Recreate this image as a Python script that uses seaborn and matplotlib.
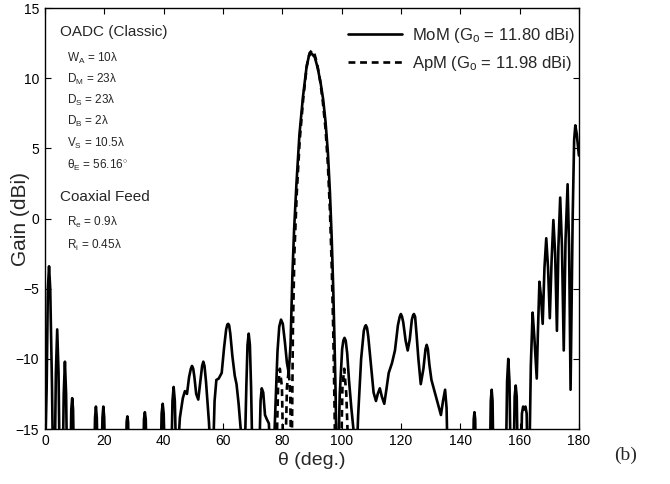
import matplotlib
matplotlib.use("Agg")
import matplotlib.pyplot as plt
import seaborn as sns

# MoM gain pattern (solid); values below -15 are clipped by the axis
mom_theta = [
    0.0, 0.6, 1.0, 1.4, 1.8, 2.4, 3.0,
    3.3, 3.7, 4.15, 4.6, 5.0,
    6.0, 6.35, 6.75, 7.15, 7.5,
    8.6, 8.9, 9.2, 9.5, 9.8,
    16.6, 16.9, 17.2, 17.5, 17.8,
    19.1, 19.4, 19.7, 20.0, 20.3,
    27.3, 27.55, 27.8, 28.05, 28.3,
    33.1, 33.4, 33.7, 34.0, 34.3,
    39.0, 39.35, 39.7, 40.05, 40.4,
    42.6, 43.0, 43.4, 43.8, 44.3,
    44.6, 45.5, 46.5, 47.2, 47.9, 48.6, 49.2, 49.6, 50.0, 50.4, 51.0, 51.7, 52.4, 53.0,
    53.4, 53.8, 54.3, 55.3, 56.0,
    56.6, 57.2, 57.8, 58.6, 59.6, 60.4, 61.1, 61.5, 61.8, 62.1, 62.5, 63.2, 64.0, 64.6,
    65.3, 66.0, 66.5,
    67.3, 67.9, 68.3, 68.7, 69.1, 69.5, 70.0,
    72.2, 72.7, 73.1, 73.6, 74.2, 74.8, 75.5, 76.1,
    77.0, 77.7, 78.4, 79.0, 79.6, 80.2, 80.9, 81.6, 82.2,
    82.8, 83.4, 84.0, 84.8, 85.8, 87.0, 88.2, 89.0, 89.8, 91.0, 92.0, 93.0, 93.8, 94.6,
    95.4, 96.1, 96.7, 97.2, 97.6, 98.0, 98.3,
    98.8, 99.4, 100.2, 100.6, 101.0, 101.4, 101.9, 102.5, 103.3, 104.0, 104.5,
    105.0, 105.6, 106.6, 107.5, 107.9, 108.2, 108.6, 109.0, 109.8, 110.8, 111.6, 112.2,
    112.9, 113.6, 114.4, 115.1, 115.9, 117.0, 118.0, 119.0, 119.6, 120.0, 120.4, 120.8,
    121.6, 122.3, 123.0, 123.7, 124.1, 124.4, 124.8, 125.3, 125.9, 126.7, 127.6, 128.3,
    128.7, 129.1, 129.6, 130.3, 131.2, 132.1, 133.5, 134.2, 134.9, 135.4, 135.8,
    144.3, 144.55, 144.8, 145.05, 145.3,
    150.0, 150.3, 150.6, 150.9, 151.2,
    155.4, 155.8, 156.2, 156.6, 157.0,
    158.0, 158.35, 158.7, 159.05, 159.4,
    160.5, 160.8, 161.2, 161.6, 162.0, 162.4, 162.7,
    163.3, 163.8, 164.4, 165.0, 165.8, 166.2, 166.7, 167.2, 167.8, 168.4, 169.0, 169.6,
    170.2, 170.8, 171.4, 172.0, 172.6, 173.1, 173.7, 174.3, 174.9, 175.5, 176.2, 176.7,
    177.2, 177.9, 178.4, 178.8, 179.3, 180.0,
]
mom_gain = [
    -18.0, -12.0, -5.0, -3.4, -5.0, -12.0, -22.0,
    -18.0, -11.0, -7.9, -11.0, -18.0,
    -18.0, -12.5, -10.2, -12.5, -18.0,
    -17.5, -13.6, -12.8, -13.6, -17.5,
    -17.5, -14.2, -13.4, -14.2, -17.5,
    -17.5, -14.2, -13.4, -14.2, -17.5,
    -17.5, -14.5, -14.1, -14.5, -17.5,
    -17.5, -14.3, -13.8, -14.3, -17.5,
    -17.5, -13.9, -13.2, -13.9, -17.5,
    -17.5, -13.0, -12.0, -13.0, -17.5,
    -17.5, -14.2, -12.8, -12.3, -12.5, -11.3, -10.7, -10.5, -10.7, -11.3, -12.5, -12.9, -11.6, -10.5,
    -10.2, -10.5, -11.6, -14.5, -17.5,
    -17.5, -13.0, -11.5, -11.4, -11.0, -9.2, -7.9, -7.55, -7.5, -7.6, -8.2, -9.8, -11.2, -11.8,
    -13.2, -15.0, -17.5,
    -17.5, -12.0, -9.0, -8.2, -9.0, -12.0, -17.5,
    -17.5, -13.0, -12.1, -12.4, -14.0, -14.3, -14.6, -17.5,
    -17.5, -13.5, -9.5, -7.7, -7.2, -7.5, -8.8, -10.3, -11.0,
    -9.0, -4.2, -0.8, 2.5, 6.0, 8.7, 10.8, 11.6, 11.8, 11.5, 10.7, 9.6, 8.5, 6.9,
    4.7, 1.8, -1.5, -5.0, -8.5, -12.5, -17.5,
    -17.5, -12.5, -9.3, -8.7, -8.5, -8.7, -9.6, -11.5, -13.5, -15.0, -17.5,
    -17.5, -14.0, -10.0, -8.0, -7.7, -7.6, -7.8, -8.4, -10.2, -12.4, -13.0, -12.5,
    -12.1, -12.7, -13.2, -12.2, -11.0, -10.3, -9.4, -7.6, -7.0, -6.8, -7.0, -7.4,
    -8.7, -9.4, -8.6, -7.2, -6.9, -6.8, -7.0, -8.3, -10.0, -11.8, -10.7, -9.3,
    -9.0, -9.3, -10.4, -11.5, -12.2, -12.9, -14.0, -13.0, -12.2, -13.5, -17.5,
    -17.5, -14.3, -13.8, -14.3, -17.5,
    -17.5, -13.0, -12.2, -13.0, -17.5,
    -17.5, -11.6, -10.0, -11.6, -17.5,
    -17.5, -12.7, -11.9, -12.7, -17.5,
    -17.5, -13.9, -13.4, -13.6, -13.4, -13.9, -17.5,
    -17.5, -10.5, -6.7, -8.5, -11.4, -8.0, -4.5, -5.5, -7.5, -3.5, -1.4, -3.5,
    -7.1, -3.0, -0.1, -2.5, -8.0, -2.0, 1.5, -2.0, -9.4, -1.5, 2.45, -2.0,
    -12.2, 0.0, 5.6, 6.65, 6.0, 4.5,
]

# ApM gain pattern (dashed)
apm_theta = [
    78.0, 78.6, 79.2, 79.9, 80.4,
    81.0, 81.6, 82.2, 82.7, 83.0,
    83.2, 83.6, 84.1, 84.9, 85.9, 87.1, 88.3, 89.2, 90.0, 90.8, 91.8, 92.8, 93.7, 94.6,
    95.4, 96.1, 96.7, 97.2, 97.6, 97.9,
    99.8, 100.3, 100.9, 101.6, 102.4,
]
apm_gain = [
    -17.5, -12.0, -10.7, -12.0, -17.5,
    -17.5, -12.0, -10.8, -12.5, -17.5,
    -17.5, -8.0, -2.5, 1.8, 5.6, 8.6, 10.9, 11.8, 12.0, 11.8, 11.0, 9.8, 8.3, 6.4,
    3.8, 0.5, -3.5, -8.0, -13.0, -17.5,
    -17.5, -12.0, -10.7, -12.5, -17.5,
]

labels = ["MoM (G$_{\\rm o}$ = 11.80 dBi)", "ApM (G$_{\\rm o}$ = 11.98 dBi)"]
params_oadc = ["W$_{\\rm A}$ = 10\u03bb", "D$_{\\rm M}$ = 23\u03bb", "D$_{\\rm S}$ = 23\u03bb",
               "D$_{\\rm B}$ = 2\u03bb", "V$_{\\rm S}$ = 10.5\u03bb", "\u03b8$_{\\rm E}$ = 56.16$^{\\circ}$"]
params_feed = ["R$_{\\rm e}$ = 0.9\u03bb", "R$_{\\rm i}$ = 0.45\u03bb"]

sns.set_theme(style="ticks")
plt.rcParams['font.family'] = ['Liberation Sans', 'DejaVu Sans']
plt.rcParams['mathtext.fontset'] = 'custom'
plt.rcParams['mathtext.rm'] = 'Liberation Sans'
plt.rcParams['mathtext.it'] = 'Liberation Sans:italic'

fig = plt.figure(figsize=(6.7, 4.84), dpi=100)
ax = fig.add_axes([0.067, 0.1136, 0.797, 0.8694])

sns.lineplot(x=mom_theta, y=mom_gain, ax=ax, color='black', lw=1.9,
             estimator=None, sort=False, label=labels[0])
sns.lineplot(x=apm_theta, y=apm_gain, ax=ax, color='black', lw=1.9,
             estimator=None, sort=False, label=labels[1], linestyle=(0, (2.6, 1.8)))

ax.set_xlim(0, 180)
ax.set_ylim(-15, 15)
ax.set_xticks(range(0, 181, 20))
ax.set_yticks(range(-15, 16, 5))
ax.tick_params(direction='in', top=True, right=True, length=4, width=0.8,
               labelsize=10, colors='black')
ax.tick_params(axis='y', pad=4)
for s in ax.spines.values():
    s.set_linewidth(1.0)
    s.set_color('black')

ax.set_xlabel("\u03b8 (deg.)", fontsize=14)
ax.set_ylabel("Gain (dBi)", fontsize=15)
ax.xaxis.set_label_coords(0.5, -0.055)
ax.yaxis.set_label_coords(-0.027, 0.5)

leg = ax.legend(loc='upper right', bbox_to_anchor=(1.015, 0.986), frameon=False,
                fontsize=12, handlelength=3.2, handletextpad=0.65, labelspacing=0.55,
                borderaxespad=0.3)

ax.text(5.1, 13.3, "OADC (Classic)", fontsize=11, va='center', ha='left')
y_rows = [11.42, 9.93, 8.43, 6.94, 5.37, 3.80]
for txt, yy in zip(params_oadc, y_rows):
    ax.text(7.6, yy, txt, fontsize=8.5, va='center', ha='left')
ax.text(5.1, 1.52, "Coaxial Feed", fontsize=11, va='center', ha='left')
for txt, yy in zip(params_feed, [-0.26, -1.9]):
    ax.text(7.6, yy, txt, fontsize=8.5, va='center', ha='left')

fig.text(0.933, 0.06, "(b)", fontsize=14, family='Liberation Serif', ha='center', va='center')

fig.savefig("out.png", dpi=100)
